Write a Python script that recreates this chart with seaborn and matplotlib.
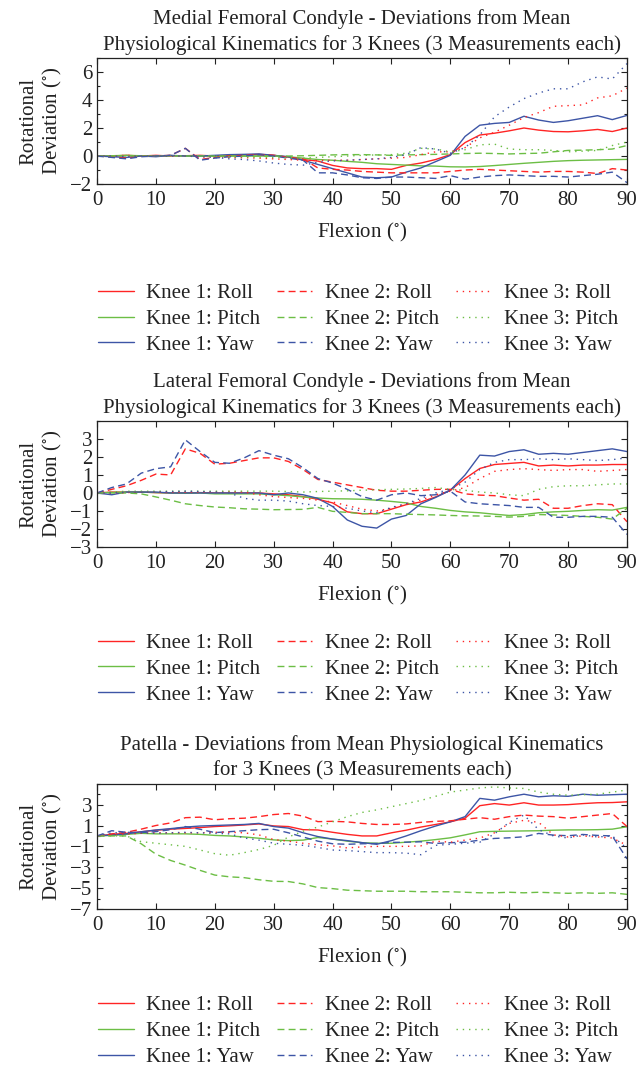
import numpy as np
import pandas as pd
import matplotlib
matplotlib.use("Agg")
import matplotlib.pyplot as plt
import seaborn as sns
from matplotlib.ticker import MultipleLocator

# flexion angle grid (deg)
flexion = [0, 2.5, 5, 7.5, 10, 12.5, 15, 17.5, 20, 22.5, 25, 27.5, 30, 32.5, 35, 37.5,
           40, 42.5, 45, 47.5, 50, 52.5, 55, 57.5, 60, 62.5, 65, 67.5, 70, 72.5, 75,
           77.5, 80, 82.5, 85, 87.5, 90]

# Medial femoral condyle
med_roll_1 = [0, 0, 0.05, 0, 0.05, 0, 0.02, 0.05, 0, 0.05, 0.08, 0.12, 0.05, -0.08, -0.25, -0.36,
              -0.67, -0.85, -0.9, -0.9, -0.95, -0.67, -0.5, -0.25, 0.1, 0.96, 1.5, 1.63, 1.8, 2.0,
              1.85, 1.75, 1.73, 1.8, 1.9, 1.75, 2.0]
med_pitch_1 = [0, 0.02, 0.05, 0.02, 0, 0.03, 0, 0, -0.02, 0, 0, 0, 0, -0.05, -0.15, -0.25,
               -0.3, -0.38, -0.45, -0.55, -0.6, -0.65, -0.7, -0.72, -0.77, -0.78, -0.75, -0.68,
               -0.6, -0.52, -0.45, -0.38, -0.33, -0.3, -0.28, -0.26, -0.24]
med_yaw_1 = [0, -0.05, -0.1, 0, -0.05, 0.05, 0, 0, 0.05, 0.1, 0.12, 0.15, 0.05, -0.05, -0.3, -0.6,
             -0.9, -1.2, -1.5, -1.55, -1.5, -1.15, -0.85, -0.4, 0.05, 1.4, 2.2, 2.33, 2.4, 2.84,
             2.57, 2.4, 2.52, 2.7, 2.88, 2.6, 2.9]
med_roll_2 = [0, -0.05, -0.15, 0, 0, 0.05, 0.55, -0.25, -0.1, 0, 0.05, 0.1, 0.05, -0.1, -0.2, -0.85,
              -0.95, -1.0, -1.1, -1.15, -1.2, -1.2, -1.2, -1.2, -1.1, -1.0, -0.95, -1.0, -1.05,
              -1.1, -1.15, -1.1, -1.1, -1.15, -1.25, -0.9, -1.0]
med_pitch_2 = [0, 0, 0.02, 0, 0, 0.02, 0, 0, 0, 0, 0, 0, 0, 0, 0.02, 0.05, 0.08, 0.1, 0.1, 0.08,
               0.05, 0.08, 0.1, 0.12, 0.15, 0.18, 0.2, 0.18, 0.15, 0.18, 0.2, 0.3, 0.4, 0.42,
               0.45, 0.5, 0.75]
med_yaw_2 = [0, -0.1, -0.2, -0.05, 0, 0.05, 0.55, -0.3, -0.15, -0.05, 0, 0.1, 0, -0.15, -0.3, -1.2,
             -1.2, -1.35, -1.55, -1.6, -1.5, -1.5, -1.55, -1.6, -1.4, -1.65, -1.5, -1.4, -1.35,
             -1.4, -1.45, -1.45, -1.5, -1.4, -1.3, -1.15, -1.9]
med_roll_3 = [0, 0, 0.05, 0, 0.02, 0, 0, -0.05, -0.05, -0.1, -0.12, -0.15, -0.2, -0.25, -0.3, -0.32,
              -0.3, -0.3, -0.25, -0.2, -0.15, -0.1, 0.1, 0.3, 0.3, 0.6, 1.3, 1.7, 2.2, 2.75, 3.1,
              3.55, 3.6, 3.65, 4.15, 4.3, 4.85]
med_pitch_3 = [0, 0, 0, 0.02, 0, 0, 0, 0, -0.02, -0.05, -0.05, -0.08, -0.1, -0.12, -0.15, -0.1,
               -0.05, 0, 0.05, 0.08, 0.1, 0.2, 0.55, 0.5, 0.3, 0.45, 0.8, 0.85, 0.5, 0.45, 0.45,
               0.4, 0.3, 0.35, 0.4, 0.75, 1.0]
med_yaw_3 = [0, 0, -0.05, 0, 0, 0, 0, -0.05, -0.1, -0.2, -0.25, -0.35, -0.5, -0.6, -0.65, -0.45,
             -0.35, -0.3, -0.25, -0.2, -0.1, 0.1, 0.6, 0.5, 0.2, 0.6, 1.5, 2.8, 3.5, 4.1, 4.5,
             4.8, 4.8, 5.3, 5.65, 5.5, 6.6]

# Lateral femoral condyle
lat_roll_1 = [0, 0.05, 0.05, 0.05, 0.02, 0, 0, 0.02, 0, 0, 0, 0, -0.05, -0.1, -0.2, -0.35, -0.55,
              -1.05, -1.15, -1.15, -0.9, -0.65, -0.5, -0.22, 0.15, 0.8, 1.36, 1.58, 1.64, 1.7,
              1.5, 1.55, 1.5, 1.55, 1.55, 1.58, 1.58]
lat_pitch_1 = [0, 0.03, 0.05, 0.05, 0.02, 0, -0.02, 0, -0.05, -0.05, -0.05, -0.05, -0.1, -0.15,
               -0.22, -0.28, -0.32, -0.33, -0.35, -0.4, -0.47, -0.55, -0.75, -0.85, -0.97,
               -1.05, -1.1, -1.18, -1.25, -1.2, -1.1, -1.05, -1.02, -0.97, -0.93, -0.95, -0.8]
lat_yaw_1 = [0, -0.1, 0.05, 0.05, 0.05, 0, 0, 0, 0, 0, 0, 0, -0.1, 0, -0.1, -0.3, -0.75, -1.5,
             -1.85, -1.95, -1.45, -1.25, -0.6, -0.25, 0.15, 1.0, 2.1, 2.05, 2.3, 2.4, 2.15, 2.2,
             2.15, 2.25, 2.35, 2.45, 2.3]
lat_roll_2 = [0, 0.2, 0.4, 0.7, 1.05, 1.0, 2.45, 2.2, 1.6, 1.65, 1.8, 1.95, 1.95, 1.75, 1.3, 0.75,
              0.6, 0.45, 0.3, 0.15, 0.1, 0.1, 0.15, 0.2, 0.2, -0.05, -0.12, -0.15, -0.28, -0.4,
              -0.35, -0.85, -0.85, -0.7, -0.6, -0.65, -1.6]
lat_pitch_2 = [0, 0, 0, -0.05, -0.22, -0.4, -0.6, -0.7, -0.78, -0.82, -0.88, -0.9, -0.93, -0.92,
               -0.91, -0.8, -1.02, -1.08, -1.15, -1.15, -1.15, -1.18, -1.2, -1.22, -1.25, -1.27,
               -1.28, -1.3, -1.34, -1.3, -1.2, -1.22, -1.25, -1.3, -1.35, -1.45, -0.85]
lat_yaw_2 = [0, 0.3, 0.5, 1.1, 1.35, 1.45, 2.95, 2.3, 1.7, 1.65, 1.95, 2.35, 2.1, 1.9, 1.4, 0.8,
             0.55, 0.2, -0.2, -0.4, -0.1, 0.0, -0.15, -0.1, 0.1, -0.5, -0.6, -0.65, -0.7, -0.8,
             -0.8, -1.35, -1.35, -1.3, -1.3, -1.35, -2.3]
lat_roll_3 = [0, 0, 0.02, 0.05, 0.05, 0.05, 0.05, 0.05, 0.05, 0.08, 0.05, -0.1, -0.2, -0.25, -0.3,
              -0.4, -0.5, -0.7, -0.9, -1.0, -0.85, -0.6, -0.4, -0.1, 0.1, 0.3, 0.8, 1.2, 1.3,
              1.35, 1.3, 1.25, 1.3, 1.3, 1.2, 1.25, 1.3]
lat_pitch_3 = [0, 0.05, 0.1, 0.1, 0.1, 0.1, 0.1, 0.1, 0.1, 0.1, 0.1, 0.1, 0.1, 0.08, 0.05, 0.08,
               0.1, 0.12, 0.15, 0.18, 0.2, 0.22, 0.25, 0.3, 0.2, 0.15, 0.05, 0, -0.1, -0.15, 0.2,
               0.35, 0.4, 0.4, 0.45, 0.5, 0.5]
lat_yaw_3 = [0, 0, 0.05, 0.05, 0.05, 0.08, 0.1, 0.08, 0.05, 0.0, -0.3, -0.4, -0.4, -0.45, -0.6,
             -0.7, -0.75, -0.85, -1.0, -1.1, -0.8, -0.6, -0.3, 0, 0.2, 0.6, 1.3, 1.7, 1.85, 1.85,
             1.9, 1.85, 1.9, 1.85, 1.8, 1.85, 1.95]

# Patella
pat_roll_1 = [0, 0.15, 0.25, 0.4, 0.55, 0.65, 0.72, 0.8, 0.9, 0.97, 1.05, 1.15, 0.96, 0.9, 0.6,
              0.57, 0.35, 0.15, 0.0, 0.0, 0.3, 0.55, 0.85, 1.1, 1.35, 1.7, 2.9, 3.1, 2.96, 3.18,
              2.96, 2.96, 3.0, 3.1, 3.18, 3.2, 3.27]
pat_pitch_1 = [0, 0.05, 0.15, 0.25, 0.2, 0.2, 0.2, 0.15, 0.05, 0.0, -0.1, -0.22, -0.38, -0.45,
               -0.4, -0.15, -0.3, -0.5, -0.65, -0.7, -0.7, -0.6, -0.5, -0.35, -0.18, 0.1, 0.4,
               0.44, 0.46, 0.48, 0.5, 0.55, 0.58, 0.58, 0.6, 0.65, 0.88]
pat_yaw_1 = [0, 0.1, 0.2, 0.4, 0.57, 0.7, 0.85, 0.95, 1.0, 1.05, 1.1, 1.2, 0.9, 0.75, 0.3, -0.06,
             -0.3, -0.45, -0.64, -0.8, -0.45, 0.0, 0.5, 0.95, 1.35, 1.85, 3.6, 3.43, 3.75, 4.0,
             3.75, 3.85, 3.8, 4.0, 3.9, 3.95, 4.0]
pat_roll_2 = [0, 0.2, 0.35, 0.65, 1.0, 1.25, 1.75, 1.8, 1.55, 1.65, 1.7, 1.85, 2.05, 2.15, 1.9,
              1.37, 1.4, 1.35, 1.2, 1.1, 1.1, 1.15, 1.3, 1.4, 1.45, 1.6, 1.75, 1.6, 1.85, 2.0,
              1.9, 1.85, 1.7, 1.85, 2.0, 2.15, 0.9]
pat_pitch_2 = [0, 0, 0, -0.75, -1.75, -2.35, -2.8, -3.3, -3.75, -3.92, -4.0, -4.2, -4.35, -4.37,
               -4.6, -4.95, -5.05, -5.2, -5.25, -5.3, -5.3, -5.3, -5.35, -5.35, -5.35, -5.4,
               -5.45, -5.45, -5.4, -5.45, -5.4, -5.45, -5.5, -5.45, -5.5, -5.45, -5.6]
pat_yaw_2 = [0, 0.5, 0.35, 0.32, 0.41, 0.6, 0.9, 0.64, 0.32, 0.41, 0.5, 0.6, 0.64, 0.3, -0.1, -0.5,
             -0.75, -0.8, -0.75, -0.72, -0.62, -0.6, -0.56, -0.72, -0.65, -0.6, -0.4, -0.24,
             -0.18, -0.08, 0.24, 0.08, 0.02, 0.14, 0.05, 0.0, -2.2]
pat_roll_3 = [0, 0.15, 0.2, 0.25, 0.3, 0.3, 0.3, 0.3, 0.35, 0.35, 0.3, 0.1, -0.35, -0.5, -0.7,
              -0.85, -0.95, -1.15, -1.05, -1.0, -1.0, -1.0, -0.95, -0.5, -0.6, -0.4, -0.2, 0.3,
              1.2, 1.5, 1.3, 0.1, -0.1, 0.0, -0.1, -0.2, -0.9]
pat_pitch_3 = [0, 0, 0, -0.55, -0.7, -0.85, -1.0, -1.35, -1.7, -1.85, -1.6, -1.3, -0.9, -0.1, 0.45,
               0.85, 1.35, 1.85, 2.25, 2.5, 2.8, 3.1, 3.4, 3.8, 4.2, 4.4, 4.6, 4.7, 4.6, 4.55,
               4.2, 4.0, 3.9, 3.95, 4.0, 4.2, 4.4]
pat_yaw_3 = [0, 0.3, 0.35, 0.3, 0.25, 0.3, 0.35, 0.3, 0.25, 0.2, -0.2, -0.4, -0.7, -0.8, -0.9,
             -1.1, -1.35, -1.4, -1.5, -1.6, -1.6, -1.65, -1.8, -0.9, -0.8, -0.7, -0.6, 0.2, 1.3,
             2.0, 0.6, 0.0, -0.2, 0.1, -0.1, 0.0, -1.2]

series_labels = ["Knee 1: Roll", "Knee 1: Pitch", "Knee 1: Yaw",
                 "Knee 2: Roll", "Knee 2: Pitch", "Knee 2: Yaw",
                 "Knee 3: Roll", "Knee 3: Pitch", "Knee 3: Yaw"]

panels = [
    ("Medial Femoral Condyle - Deviations from Mean\n"
     "Physiological Kinematics for 3 Knees (3 Measurements each)",
     [med_roll_1, med_pitch_1, med_yaw_1, med_roll_2, med_pitch_2, med_yaw_2,
      med_roll_3, med_pitch_3, med_yaw_3]),
    ("Lateral Femoral Condyle - Deviations from Mean\n"
     "Physiological Kinematics for 3 Knees (3 Measurements each)",
     [lat_roll_1, lat_pitch_1, lat_yaw_1, lat_roll_2, lat_pitch_2, lat_yaw_2,
      lat_roll_3, lat_pitch_3, lat_yaw_3]),
    ("Patella - Deviations from Mean Physiological Kinematics\n"
     "for 3 Knees (3 Measurements each)",
     [pat_roll_1, pat_pitch_1, pat_yaw_1, pat_roll_2, pat_pitch_2, pat_yaw_2,
      pat_roll_3, pat_pitch_3, pat_yaw_3]),
]

red, green, blue = "#FF2424", "#6CBE45", "#3D55A6"
palette = dict(zip(series_labels, [red, green, blue] * 3))
dashes = dict(zip(series_labels, [""] * 3 + [(5, 3)] * 3 + [(1, 3.5)] * 3))

sns.set_style("ticks")
plt.rcParams["font.family"] = ["Liberation Serif", "DejaVu Serif"]
plt.rcParams["mathtext.fontset"] = "stix"
plt.rcParams["axes.linewidth"] = 0.9

fs = 15
ink = "#222222"

fig = plt.figure(figsize=(6.37, 10.70), dpi=100)

# axes rectangles (figure fraction) and legend centres
ax_rects = [[0.1523, 0.8280, 0.8320, 0.1178],
            [0.1523, 0.4888, 0.8320, 0.1178],
            [0.1523, 0.1505, 0.8320, 0.1170]]
legend_y = [0.7018, 0.3748, 0.0360]
ylims = [(-2, 7), (-3, 4), (-7, 5)]
yticks = [[-2, 0, 2, 4, 6], [-3, -2, -1, 0, 1, 2, 3], [-7, -5, -3, -1, 1, 3]]

for i, (title, values) in enumerate(panels):
    ax = fig.add_axes(ax_rects[i])
    df = pd.DataFrame({
        "Flexion": np.tile(flexion, len(series_labels)),
        "Deviation": np.concatenate(values),
        "series": np.repeat(series_labels, len(flexion)),
    })
    sns.lineplot(data=df, x="Flexion", y="Deviation", hue="series", style="series",
                 hue_order=series_labels, style_order=series_labels,
                 palette=palette, dashes=dashes, linewidth=1.0,
                 estimator=None, sort=False, ax=ax)

    ax.set_xlim(0, 90)
    ax.set_ylim(*ylims[i])
    ax.set_xticks(range(0, 91, 10))
    ax.set_yticks(yticks[i])
    ax.yaxis.set_minor_locator(MultipleLocator(1))
    ax.tick_params(which="both", direction="in", top=True, right=True, labelsize=fs,
                   width=0.8, color=ink, labelcolor=ink)
    ax.tick_params(which="major", length=4)
    ax.tick_params(which="minor", length=2.5)
    ax.tick_params(axis="x", pad=5)
    for sp in ax.spines.values():
        sp.set_color(ink)

    ax.set_title(title, fontsize=fs, color=ink, pad=6, linespacing=1.4)
    ax.set_xlabel("Flexion ($^{\\circ}$)", fontsize=fs, color=ink, labelpad=8)
    ax.set_ylabel("Rotational\nDeviation ($^{\\circ}$)", fontsize=fs, color=ink)

    handles, labels = ax.get_legend_handles_labels()
    ax.get_legend().remove()
    fig.legend(handles, labels, ncol=3, loc="center", frameon=False,
               bbox_to_anchor=(0.562, legend_y[i]), fontsize=fs,
               handlelength=1.7, handletextpad=0.6, columnspacing=0.8,
               labelspacing=0.3, labelcolor=ink)

fig.savefig("out.png", dpi=100)
